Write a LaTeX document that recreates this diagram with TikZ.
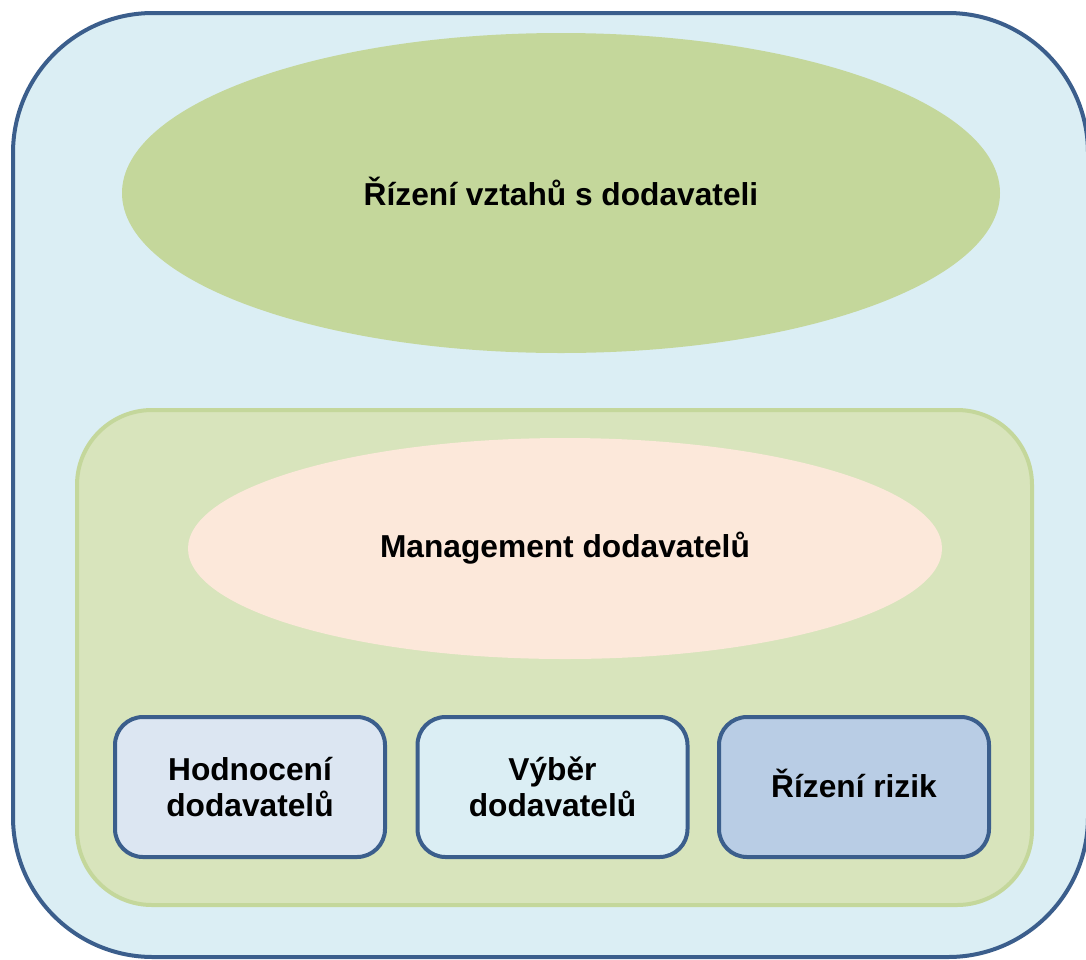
\documentclass[tikz,border=0pt]{standalone}
\usepackage{fontspec}
\setmainfont{Liberation Sans}
\usetikzlibrary{shapes.geometric}

\definecolor{frameblue}{HTML}{3B5E8C}
\definecolor{paleblue}{HTML}{DBEEF4}
\definecolor{leafgreen}{HTML}{C4D79B}
\definecolor{palegreen}{HTML}{D8E4BC}
\definecolor{peach}{HTML}{FCE8DA}
\definecolor{greyblue}{HTML}{DCE6F2}
\definecolor{steelblue}{HTML}{B9CDE5}

\tikzset{
  label text/.style={font=\fontsize{31.7}{35.6}\selectfont\bfseries, text=black, align=center},
  oneline/.style={text height=#1, text depth=0pt},
  outerframe/.style={draw=frameblue, line width=4pt, fill=paleblue, rounded corners=140pt,
    rectangle, minimum width=1075pt, minimum height=944pt, inner sep=0pt},
  groupframe/.style={draw=leafgreen, line width=4pt, fill=palegreen, rounded corners=75pt,
    rectangle, minimum width=955pt, minimum height=495pt, inner sep=0pt},
  bigoval/.style={ellipse, inner sep=0pt, label text},
  taskbox/.style={rectangle, draw=frameblue, line width=4pt, rounded corners=28pt,
    minimum width=270pt, minimum height=140pt, inner sep=0pt, label text}
}

\begin{document}
\begin{tikzpicture}[x=1pt,y=-1pt]
  \useasboundingbox (0,0) rectangle (1086,959);

  % outer frame
  \node[outerframe] (frame) at (550.5,485) {};

  % top-level oval
  \node[bigoval, fill=leafgreen, minimum width=878pt, minimum height=320pt, oneline=24pt]
    (srm) at (561,193) {Řízení vztahů s dodavateli};

  % inner group
  \node[groupframe] (group) at (554.5,657.5) {};

  \node[bigoval, fill=peach, minimum width=754pt, minimum height=221pt, oneline=17pt]
    (mgmt) at (565,548.5) {Management dodavatelů};

  % three activity boxes
  \node[taskbox, fill=greyblue] (eval) at (250,787) {Hodnocení\\dodavatelů};
  \node[taskbox, fill=paleblue] (select) at (552.5,787) {Výběr\\dodavatelů};
  \node[taskbox, fill=steelblue, oneline=20pt] (risk) at (854,787) {Řízení rizik};
\end{tikzpicture}
\end{document}
